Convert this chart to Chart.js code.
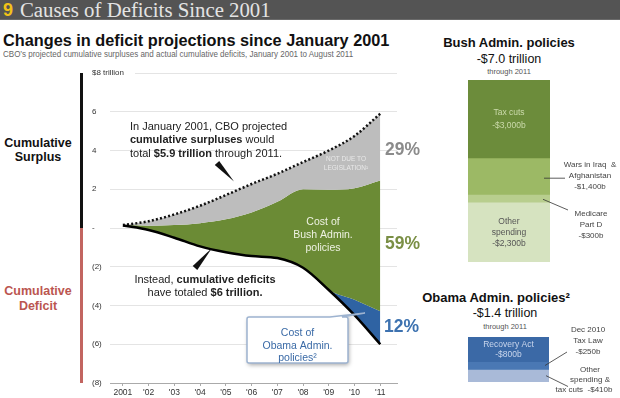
<!DOCTYPE html>
<html>
<head>
<meta charset="utf-8">
<script src="https://cdn.jsdelivr.net/npm/chart.js@4.4.1/dist/chart.umd.min.js"></script>
<style>
  html, body { margin: 0; padding: 0; background: #fff; }
  body { width: 620px; height: 398px; position: relative; overflow: hidden;
         font-family: "Liberation Sans", Arial, sans-serif; color: #111; }
  canvas { position: absolute; left: 0; top: 0; }
  .t { position: absolute; white-space: nowrap; line-height: 1; }
  .band { position: absolute; left: 0; top: 0; width: 620px; height: 20px; background: #545454; border-bottom: 1px solid #6a6a6a; box-sizing: border-box; }
</style>
</head>
<body>
<div class="band"></div>
<div class="t" style="left:3px;top:1px;font-size:18px;font-weight:bold;color:#f2c318;">9</div>
<div class="t" style="left:20px;top:0px;font-family:'Liberation Serif',serif;font-size:20.8px;color:#e4e4e4;">Causes of Deficits Since 2001</div>
<div class="t" style="left:3px;top:32px;font-size:16.3px;font-weight:bold;">Changes in deficit projections since January 2001</div>
<div class="t" style="left:3px;top:50px;font-size:9px;color:#666;transform:scaleX(0.89);transform-origin:left top;">CBO’s projected cumulative surpluses and actual cumulative deficits, January 2001 to August 2011</div>

<div class="t" style="left:0;width:76px;top:136px;text-align:center;font-size:12.5px;font-weight:bold;line-height:14px;">Cumulative<br>Surplus</div>
<div class="t" style="left:0;width:76px;top:284px;text-align:center;font-size:12.5px;font-weight:bold;line-height:15px;color:#bb5650;">Cumulative<br>Deficit</div>

<div class="t" style="left:409px;width:200px;top:36px;text-align:center;font-size:13px;font-weight:bold;">Bush Admin. policies</div>
<div class="t" style="left:409px;width:200px;top:53px;text-align:center;font-size:12.5px;">-$7.0 trillion</div>
<div class="t" style="left:409px;width:200px;top:68px;text-align:center;font-size:7.5px;color:#555;">through 2011</div>

<div class="t" style="left:396px;width:200px;top:291px;text-align:center;font-size:13px;font-weight:bold;">Obama Admin. policies²</div>
<div class="t" style="left:405px;width:200px;top:307px;text-align:center;font-size:12.5px;">-$1.4 trillion</div>
<div class="t" style="left:405px;width:200px;top:323px;text-align:center;font-size:7.5px;color:#555;">through 2011</div>

<canvas id="main" width="620" height="398"></canvas>
<canvas id="bush" width="620" height="398"></canvas>
<canvas id="obama" width="620" height="398"></canvas>

<script>
// values, $ trillion
const years = [2001, 2002, 2003, 2004, 2005, 2006, 2007, 2008, 2009, 2010, 2011];
const yearLabels = ['2001', "'02", "'03", "'04", "'05", "'06", "'07", "'08", "'09", "'10", "'11"];
const projectedSurplus = [0.15, 0.35, 0.7, 1.15, 1.7, 2.27, 2.8, 3.4, 4.0, 4.75, 5.9];
const bushCostTop = [0.15, 0.12, 0.15, 0.25, 0.45, 0.8, 1.35, 2.0, 1.97, 2.05, 2.45];
const obamaCostTop = [0.13, -0.1, -0.5, -0.95, -1.25, -1.45, -1.55, -2.05, -3.2, -3.7, -4.3];
const actualBalance = [0.13, -0.1, -0.5, -0.95, -1.25, -1.45, -1.55, -2.05, -3.2, -4.5, -6.0];
const yTicks = [-8, -6, -4, -2, 0, 2, 4, 6, 8];

// $ billion
const bushPolicies = ['Tax cuts', 'Wars in Iraq & Afghanistan', 'Medicare Part D', 'Other spending'];
const bushCosts = [-3000, -1400, -300, -2300];
const obamaPolicies = ['Recovery Act', 'Dec 2010 Tax Law', 'Other spending & tax cuts'];
const obamaCosts = [-800, -250, -410];

const SANS = '"Liberation Sans", Arial, sans-serif';
const pts = arr => years.map((x, i) => ({ x: x, y: arr[i] }));

function rich(ctx, parts, x, y, size, align) {
  let w = 0;
  parts.forEach(p => { ctx.font = (p[1] ? 'bold ' : '') + size + 'px ' + SANS; w += ctx.measureText(p[0]).width; });
  let cx = align === 'center' ? x - w / 2 : x;
  ctx.textAlign = 'left';
  ctx.textBaseline = 'middle';
  parts.forEach(p => {
    ctx.font = (p[1] ? 'bold ' : '') + size + 'px ' + SANS;
    ctx.fillText(p[0], cx, y);
    cx += ctx.measureText(p[0]).width;
  });
}

function lines(ctx, list, x, y0, lh, font, color, align) {
  ctx.font = font;
  ctx.fillStyle = color;
  ctx.textAlign = align || 'center';
  ctx.textBaseline = 'middle';
  list.forEach((s, i) => ctx.fillText(s, x, y0 + i * lh));
}

function wedge(ctx, bx, by, tx, ty, half) {
  const dx = tx - bx, dy = ty - by, len = Math.hypot(dx, dy);
  const nx = -dy / len * half, ny = dx / len * half;
  ctx.beginPath();
  ctx.moveTo(bx + nx, by + ny);
  ctx.lineTo(bx - nx, by - ny);
  ctx.lineTo(tx, ty);
  ctx.closePath();
  ctx.fill();
}

function leader(ctx, x1, y1, x2, y2) {
  ctx.strokeStyle = '#333';
  ctx.lineWidth = 0.8;
  ctx.beginPath();
  ctx.moveTo(x1, y1);
  ctx.lineTo(x2, y2);
  ctx.stroke();
}

const mainNotes = {
  id: 'mainNotes',
  beforeDatasetsDraw(chart) {
    const { ctx, chartArea: a, scales: { y } } = chart;
    const yy = Math.round(y.getPixelForValue(8)) + 0.5;
    ctx.save();
    ctx.strokeStyle = '#e4e4e4';
    ctx.lineWidth = 1;
    ctx.beginPath();
    ctx.moveTo(135, yy);
    ctx.lineTo(a.right, yy);
    ctx.stroke();
    ctx.restore();
  },
  afterDraw(chart) {
    const { ctx, scales: { y } } = chart;
    ctx.save();
    // top tick label overhangs the axis box, so it is drawn here
    lines(ctx, ['$8 trillion'], y.left, y.getPixelForValue(8), 0, '8px ' + SANS, '#333', 'left');

    // surplus / deficit side bar
    ctx.fillStyle = '#111';
    ctx.fillRect(80, y.getPixelForValue(8), 3, y.getPixelForValue(0) - y.getPixelForValue(8));
    ctx.fillStyle = '#c26560';
    ctx.fillRect(80, y.getPixelForValue(0), 3, y.getPixelForValue(-8) - y.getPixelForValue(0));

    // projected surplus note
    ctx.fillStyle = '#222';
    rich(ctx, [['In January 2001, CBO projected', 0]], 130, 127, 11);
    rich(ctx, [['cumulative surpluses', 1], [' would', 0]], 130, 140.3, 11);
    rich(ctx, [['total ', 0], ['$5.9 trillion', 1], [' through 2011.', 0]], 130, 153.5, 11);
    ctx.fillStyle = '#111';
    wedge(ctx, 217, 163, 234, 181.5, 3);

    // actual deficit note
    ctx.fillStyle = '#222';
    rich(ctx, [['Instead, ', 0], ['cumulative deficits', 1]], 205, 280, 11, 'center');
    rich(ctx, [['have totaled ', 0], ['$6 trillion.', 1]], 205, 292.5, 11, 'center');
    ctx.fillStyle = '#111';
    wedge(ctx, 195, 268, 212, 248, 3);

    lines(ctx, ['NOT DUE TO', 'LEGISLATION¹'], 346, 159.5, 9, '6.5px ' + SANS, '#e8e8e8');
    lines(ctx, ['Cost of', 'Bush Admin.', 'policies'], 323, 222, 13, '10.5px ' + SANS, '#eef2e2');

    // callout box for Obama cost
    ctx.save();
    ctx.shadowColor = 'rgba(0,0,0,0.35)';
    ctx.shadowBlur = 4;
    ctx.shadowOffsetX = 1;
    ctx.shadowOffsetY = 2;
    ctx.beginPath();
    ctx.moveTo(249, 317);
    ctx.lineTo(330, 317);
    ctx.lineTo(365, 313);
    ctx.lineTo(342, 317);
    ctx.lineTo(346, 317);
    ctx.quadraticCurveTo(348, 317, 348, 319);
    ctx.lineTo(348, 361);
    ctx.quadraticCurveTo(348, 363, 346, 363);
    ctx.lineTo(249, 363);
    ctx.quadraticCurveTo(247, 363, 247, 361);
    ctx.lineTo(247, 319);
    ctx.quadraticCurveTo(247, 317, 249, 317);
    ctx.closePath();
    ctx.fillStyle = '#fff';
    ctx.fill();
    ctx.restore();
    ctx.strokeStyle = '#9db3d0';
    ctx.lineWidth = 1.5;
    ctx.stroke();
    lines(ctx, ['Cost of', 'Obama Admin.', 'policies²'], 297.5, 333, 12.8, '10.5px ' + SANS, '#3a6aa6');

    // shares
    lines(ctx, ['29%'], 385, 150, 0, 'bold 17.5px ' + SANS, '#8b8b8b', 'left');
    lines(ctx, ['59%'], 385, 244.5, 0, 'bold 17.5px ' + SANS, '#7a8f45', 'left');
    lines(ctx, ['12%'], 384, 327, 0, 'bold 17.5px ' + SANS, '#3d72b0', 'left');
    ctx.restore();
  }
};

new Chart(document.getElementById('main'), {
  type: 'line',
  data: {
    datasets: [
      { label: 'CBO projected surplus (Jan 2001)', data: pts(projectedSurplus), borderColor: '#111',
        borderWidth: 2.5, borderDash: [2, 2.2], backgroundColor: '#bdbdbd', fill: '+1',
        pointRadius: 0, cubicInterpolationMode: 'monotone' },
      { label: 'Cost of Bush Admin. policies', data: pts(bushCostTop), borderWidth: 0,
        borderColor: 'rgba(0,0,0,0)', backgroundColor: '#6b8b35', fill: '+1',
        pointRadius: 0, cubicInterpolationMode: 'monotone' },
      { label: 'Cost of Obama Admin. policies', data: pts(obamaCostTop), borderWidth: 0,
        borderColor: 'rgba(0,0,0,0)', backgroundColor: '#2f63a3', fill: '+1',
        pointRadius: 0, cubicInterpolationMode: 'monotone' },
      { label: 'Actual cumulative deficit', data: pts(actualBalance), borderColor: '#000',
        borderWidth: 2.5, fill: false, order: -1, pointRadius: 0, cubicInterpolationMode: 'monotone' }
    ]
  },
  options: {
    responsive: false,
    animation: false,
    events: [],
    layout: { padding: { left: 92, right: 223, top: 73, bottom: 0 } },
    plugins: { legend: { display: false }, tooltip: { enabled: false } },
    scales: {
      x: {
        type: 'linear', min: 2000.5, max: 2011.65,
        afterBuildTicks: s => { s.ticks = years.map(v => ({ value: v })); },
        afterFit: s => { s.height = 15; },
        grid: { drawOnChartArea: false, drawTicks: true, tickLength: 3, color: '#aaa' },
        border: { color: '#aaa' },
        ticks: { callback: v => yearLabels[years.indexOf(v)], font: { size: 8.5, family: SANS },
                 color: '#333', padding: 2, maxRotation: 0, autoSkip: false }
      },
      y: {
        min: -8, max: 8,
        afterBuildTicks: s => { s.ticks = yTicks.map(v => ({ value: v })); },
        afterFit: s => { s.width = 18; },
        grid: { color: c => (c.tick && c.tick.value === 8) ? 'rgba(0,0,0,0)' : '#e4e4e4', drawTicks: false },
        border: { display: false },
        ticks: {
          crossAlign: 'far', padding: 0, color: '#333', font: { size: 8, family: SANS },
          callback: v => v === 8 ? '' : v === 0 ? '-' : v < 0 ? '(' + (-v) + ')' : String(v)
        }
      }
    }
  },
  plugins: [mainNotes]
});

function stackChart(id, names, values, colors, min, padding, notes) {
  return new Chart(document.getElementById(id), {
    type: 'bar',
    data: {
      labels: ['total'],
      datasets: names.map((n, i) => ({ label: n, data: [values[i]], backgroundColor: colors[i],
        borderWidth: 0, barPercentage: 1, categoryPercentage: 1 }))
    },
    options: {
      responsive: false,
      animation: false,
      events: [],
      layout: { padding: padding },
      plugins: { legend: { display: false }, tooltip: { enabled: false } },
      scales: {
        x: { display: false, stacked: true },
        y: { display: false, stacked: true, min: min, max: 0 }
      }
    },
    plugins: [notes]
  });
}

const segMid = (chart, i) => {
  const el = chart.getDatasetMeta(i).data[0];
  return { x: el.x, y: (el.y + el.base) / 2 };
};

stackChart('bush', bushPolicies, bushCosts, ['#6c8c3b', '#9cb965', '#b8ce8e', '#d6e3c0'], -7000,
  { left: 468, right: 70, top: 80, bottom: 136 }, {
  id: 'bushNotes',
  afterDraw(chart) {
    const ctx = chart.ctx;
    ctx.save();
    const tax = segMid(chart, 0), wars = segMid(chart, 1), med = segMid(chart, 2), other = segMid(chart, 3);
    lines(ctx, ['Tax cuts', '-$3,000b'], tax.x, tax.y - 6, 12.3, '8.5px ' + SANS, '#cbdaab');
    lines(ctx, ['Other', 'spending', '-$2,300b'], other.x, other.y - 10.5, 10.8, '8.5px ' + SANS, '#555');
    lines(ctx, ['Wars in Iraq  &', 'Afghanistan', '-$1,400b'], 590, 164.3, 11.2, '8px ' + SANS, '#444');
    leader(ctx, 544, wars.y + 2, 565, wars.y + 2);
    lines(ctx, ['Medicare', 'Part D', '-$300b'], 591, 213.3, 11, '8px ' + SANS, '#444');
    leader(ctx, 543, med.y + 1, 568, 210);
    ctx.restore();
  }
});

stackChart('obama', obamaPolicies, obamaCosts, ['#3b69a6', '#4a78b4', '#a9bad8'], -1460,
  { left: 468, right: 71, top: 337, bottom: 16 }, {
  id: 'obamaNotes',
  afterDraw(chart) {
    const ctx = chart.ctx;
    ctx.save();
    const rec = segMid(chart, 0), law = segMid(chart, 1), oth = segMid(chart, 2);
    lines(ctx, ['Recovery Act', '-$800b'], rec.x, rec.y - 4.5, 10, '8.5px ' + SANS, '#c8d5ec');
    lines(ctx, ['Dec 2010', 'Tax Law', '-$250b'], 588, 330, 11, '8px ' + SANS, '#444');
    leader(ctx, 545, law.y, 567, 352);
    lines(ctx, ['Other', 'spending &'], 590, 369.3, 10.5, '8px ' + SANS, '#444');
    lines(ctx, ['tax cuts  -$410b'], 584, 390, 0, '8px ' + SANS, '#444');
    leader(ctx, 546, oth.y, 568, 386.5);
    ctx.restore();
  }
});
</script>
</body>
</html>
